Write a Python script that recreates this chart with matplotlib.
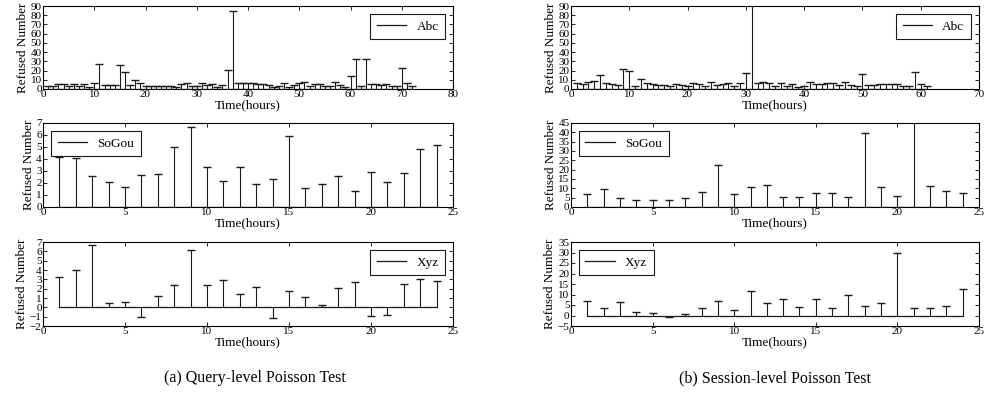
import numpy as np
import matplotlib
matplotlib.use("Agg")
import matplotlib.pyplot as plt

plt.rcParams['font.family'] = ['Liberation Serif', 'DejaVu Serif']
plt.rcParams['mathtext.fontset'] = 'stix'

# query-level data
abc_q = [3, 3, 5, 5, 3, 5, 3, 5, 2, 6, 27, 4, 4, 4, 26, 18, 4, 10, 7, 3,
         3, 3, 3, 3, 3, 2, 5, 6, 3, 3, 7, 4, 5, 2, 4, 21, 85, 6, 7, 6,
         6, 5, 5, 4, 2, 3, 7, 2, 4, 6, 8, 3, 5, 5, 3, 3, 8, 4, 2, 14,
         32, 3, 33, 5, 5, 4, 5, 3, 3, 23, 6, 3]
sogou_q = [4.2, 4.05, 2.6, 2.1, 1.65, 2.7, 2.75, 5.0, 6.7, 3.35, 2.2, 3.3,
           1.95, 2.35, 5.9, 1.6, 1.95, 2.6, 1.3, 2.9, 2.1, 2.85, 4.85, 5.2]
xyz_q = [3.2, 4.0, 6.7, 0.5, 0.6, -1.0, 1.2, 2.4, 6.1, 2.4, 2.9, 1.4,
         2.2, -1.1, 1.8, 1.1, 0.25, 2.1, 2.7, -0.95, -0.85, 2.5, 3.0, 2.8]

# session-level data
abc_s = [6, 5, 8, 9, 15, 7, 5, 4, 22, 19, 3, 11, 7, 5, 4, 4, 3, 5, 4, 3,
         7, 5, 3, 8, 4, 5, 6, 3, 6, 17, 95, 6, 8, 7, 3, 7, 3, 5, 2, 3,
         8, 5, 5, 7, 7, 4, 8, 4, 3, 16, 4, 4, 5, 5, 5, 5, 3, 3, 18, 5, 3]
sogou_s = [6.8, 9.5, 4.8, 4.0, 3.5, 4.0, 4.8, 8.0, 22.7, 7.0, 10.5, 11.7,
           5.3, 5.6, 7.5, 7.3, 5.5, 39.5, 10.5, 6.0, 48.0, 11.0, 8.7, 7.5]
xyz_s = [7.0, 3.7, 6.5, 1.7, 1.2, -0.8, 0.7, 3.5, 6.8, 2.7, 11.8, 5.8,
         8.0, 4.1, 7.8, 3.5, 10.0, 4.3, 6.0, 30.0, 3.7, 3.7, 4.7, 12.7]

fig = plt.figure(figsize=(9.87, 4.0), dpi=100)

left_x, left_w = 0.0436, 0.4154
right_x, right_w = 0.5785, 0.4134
rows = [(0.7775, 0.2075), (0.4825, 0.2100), (0.185, 0.2100)]

panels = [
    # (col, row, data, label, xlim, xticks, ylim, yticks, legend loc)
    (0, 0, abc_q, 'Abc', (0, 80), range(0, 81, 10), (0, 90), range(0, 91, 10), 'upper right'),
    (0, 1, sogou_q, 'SoGou', (0, 25), range(0, 26, 5), (0, 7), range(0, 8), 'upper left'),
    (0, 2, xyz_q, 'Xyz', (0, 25), range(0, 26, 5), (-2, 7), range(-2, 8), 'upper right'),
    (1, 0, abc_s, 'Abc', (0, 70), range(0, 71, 10), (0, 90), range(0, 91, 10), 'upper right'),
    (1, 1, sogou_s, 'SoGou', (0, 25), range(0, 26, 5), (0, 45), range(0, 46, 5), 'upper left'),
    (1, 2, xyz_s, 'Xyz', (0, 25), range(0, 26, 5), (-5, 35), range(-5, 36, 5), 'upper left'),
]

for col, row, data, label, xlim, xt, ylim, yt, loc in panels:
    x0, w = (left_x, left_w) if col == 0 else (right_x, right_w)
    y0, h = rows[row]
    ax = fig.add_axes([x0, y0, w, h])
    xs = np.arange(1, len(data) + 1)
    ml, sl, bl = ax.stem(xs, data, linefmt='-', markerfmt='_', basefmt='-')
    plt.setp(sl, color='0.1', linewidth=0.8)
    plt.setp(ml, color='0.1', markersize=5.5, markeredgewidth=1.0)
    plt.setp(bl, color='0.1', linewidth=0.9)
    ax.set_xlim(*xlim)
    ax.set_ylim(*ylim)
    ax.set_xticks(list(xt))
    ax.set_yticks(list(yt))
    ax.tick_params(direction='in', top=True, right=True, labelsize=8,
                   length=3, width=0.6, pad=1)
    ax.set_xlabel('Time(hours)', fontsize=9.5, labelpad=0)
    ax.set_ylabel('Refused Number', fontsize=9.5, labelpad=1)
    for s in ax.spines.values():
        s.set_linewidth(0.8)
    handle = plt.Line2D([], [], color='0.1', linewidth=0.9)
    leg = ax.legend([handle], [label], loc=loc, fontsize=9.5, fancybox=False,
                    framealpha=1, edgecolor='0.1', handlelength=2.2,
                    borderpad=0.5, borderaxespad=0.6)
    leg.get_frame().set_linewidth(0.8)

fig.text(0.258, 0.055, '(a) Query-level Poisson Test', ha='center', va='center', fontsize=11.5)
fig.text(0.785, 0.055, '(b) Session-level Poisson Test', ha='center', va='center', fontsize=11.5)

fig.savefig('out.png', dpi=100)
